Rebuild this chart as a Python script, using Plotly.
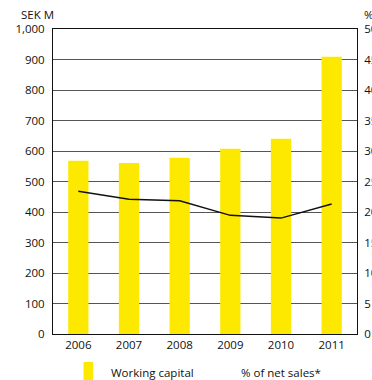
import plotly.graph_objects as go

years = ["2006", "2007", "2008", "2009", "2010", "2011"]
working_capital = [568, 561, 578, 607, 640, 909]
pct_net_sales = [23.4, 22.1, 21.85, 19.45, 19.0, 21.3]

left_ticks = [0, 100, 200, 300, 400, 500, 600, 700, 800, 900, 1000]
left_labels = ["0", "100", "200", "300", "400", "500", "600", "700", "800", "900", "1,000"]
right_ticks = [0, 5, 10, 15, 20, 25, 30, 35, 40, 45, 50]

FONT = "Open Sans"
YELLOW = "#FDE900"
FS = 11.5

W, H = 372, 380
l, r, t, b = 53, 15, 29, 46
pw, ph = W - l - r, H - t - b

def px(x):
    return (x - l) / pw

def py(y):
    return (H - b - y) / ph

fig = go.Figure()
fig.add_trace(go.Bar(x=years, y=working_capital, marker=dict(color=YELLOW, line=dict(width=0)),
                     name="Working capital", showlegend=False))
fig.add_trace(go.Scatter(x=years, y=pct_net_sales, yaxis="y2", mode="lines",
                         line=dict(color="#111111", width=1.5), name="% of net sales*", showlegend=False))

fig.update_layout(
    width=W, height=H,
    margin=dict(l=l, r=r, t=t, b=b),
    paper_bgcolor="white", plot_bgcolor="white",
    font=dict(family=FONT, size=FS, color="#111111"),
    bargap=0.6,
    xaxis=dict(showline=True, linecolor="#111111", linewidth=1, mirror=True,
               ticks="", showgrid=False, automargin=False),
    yaxis=dict(range=[0, 1000], tickvals=left_ticks, ticktext=left_labels,
               showgrid=True, gridcolor="#555555", gridwidth=1,
               showline=True, linecolor="#111111", linewidth=1,
               ticks="", ticklabelstandoff=5, zeroline=False, automargin=False),
    yaxis2=dict(range=[0, 50], tickvals=right_ticks, overlaying="y", side="right",
                showgrid=False, showline=True, linecolor="#111111", linewidth=1,
                ticks="", ticklabelstandoff=4, zeroline=False, automargin=False),
)

fig.add_annotation(text="SEK M", x=px(19), y=py(15), xref="paper", yref="paper",
                   xanchor="left", yanchor="middle", showarrow=False)
fig.add_annotation(text="%", x=px(362), y=py(15), xref="paper", yref="paper",
                   xanchor="left", yanchor="middle", showarrow=False)
fig.add_shape(type="rect", xref="paper", yref="paper", x0=px(83.5), x1=px(93), y0=py(362), y1=py(380),
              fillcolor=YELLOW, line=dict(width=0))
fig.add_annotation(text="Working capital", x=px(109), y=py(372), xref="paper", yref="paper",
                   xanchor="left", yanchor="middle", showarrow=False)
fig.add_annotation(text="% of net sales*", x=px(239), y=py(372), xref="paper", yref="paper",
                   xanchor="left", yanchor="middle", showarrow=False)

fig.write_html("out.html")
